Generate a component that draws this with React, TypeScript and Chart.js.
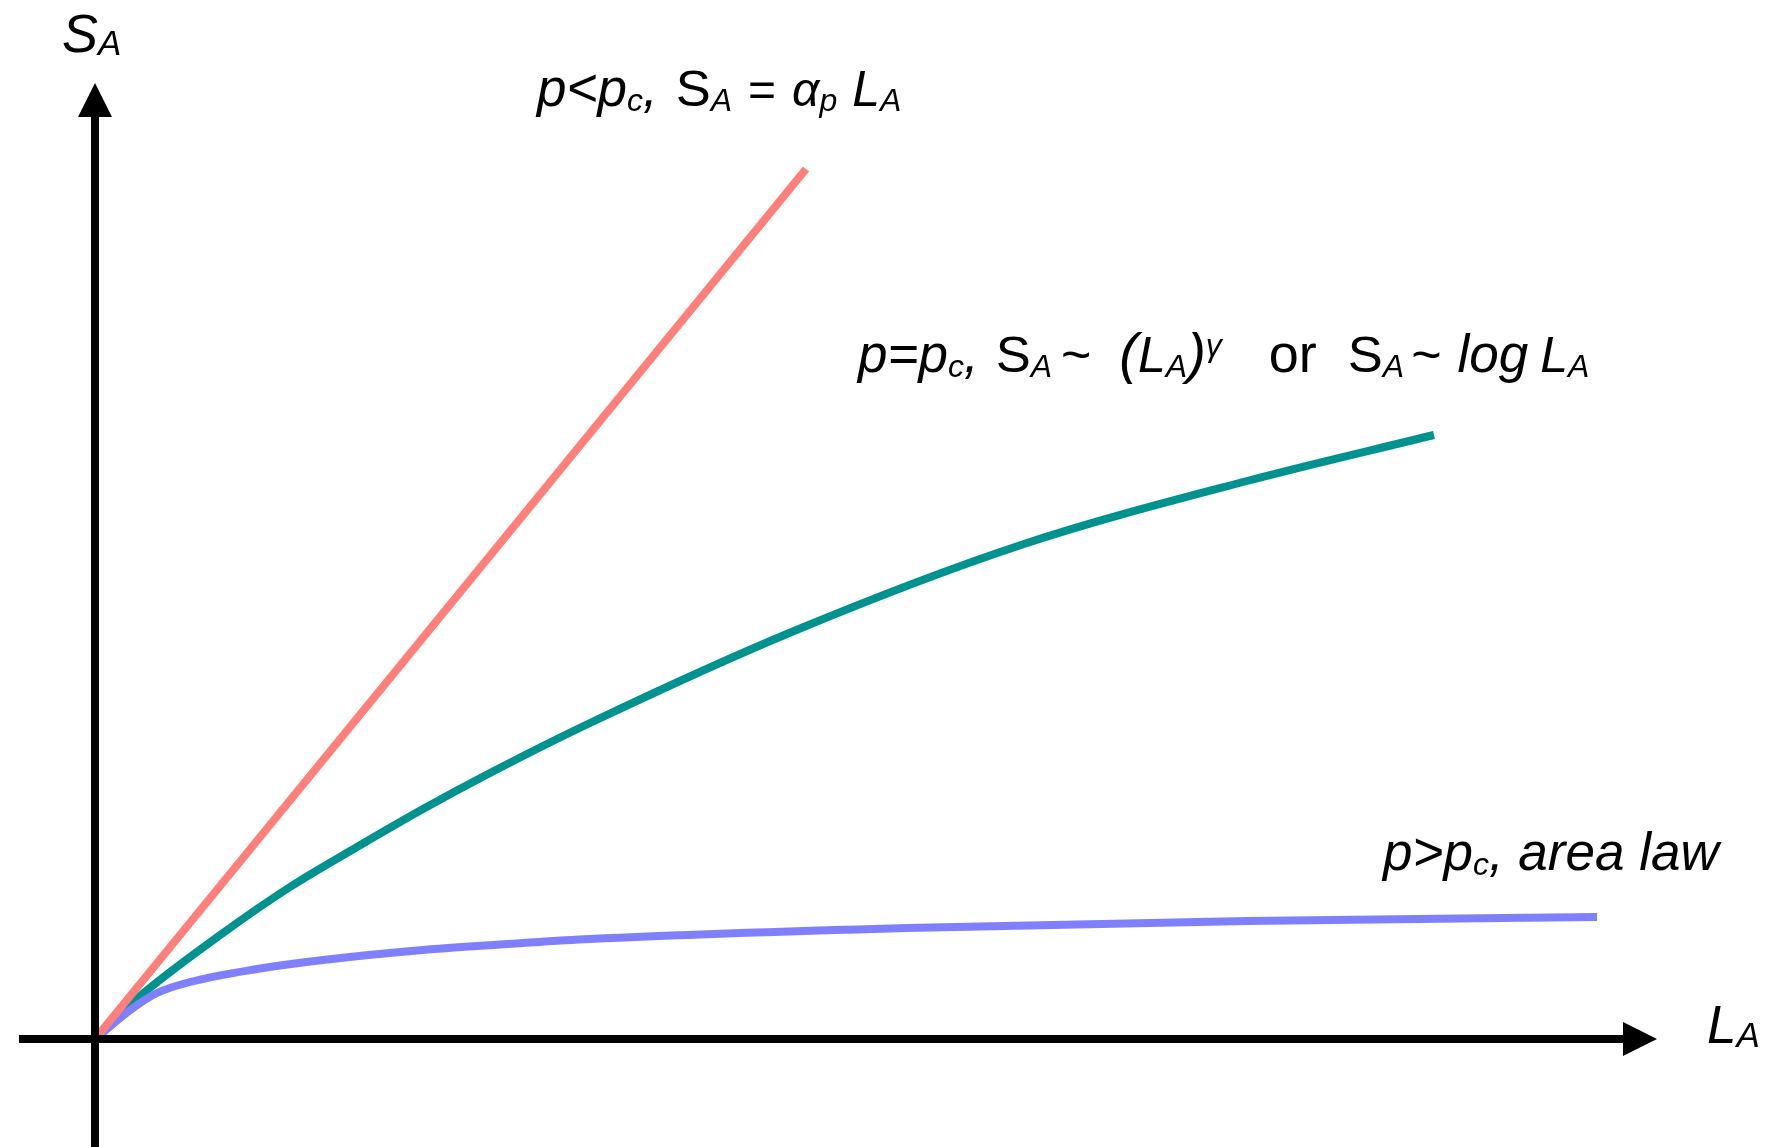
import React, { useEffect, useRef } from 'react';
import { Chart, registerables } from 'chart.js';

Chart.register(...registerables);

// ---- Data (arbitrary units: L_A horizontal, S_A vertical) ----
const L_VOLUME = [0, 7.11];
const S_VOLUME = [0, 8.7];

const L_CRITICAL = [0, 0.38, 1.28, 1.95, 2.62, 3.28, 3.95, 4.95, 6.99, 9.26, 11.52, 13.39];
const S_CRITICAL = [0, 0.37, 1.06, 1.52, 1.92, 2.3, 2.66, 3.16, 4.08, 4.94, 5.58, 6.04];

const L_AREA = [0, 0.38, 0.62, 0.95, 1.62, 2.28, 3.28, 4.28, 4.95, 8.12, 11.52, 15.02];
const S_AREA = [0, 0.31, 0.46, 0.57, 0.7, 0.79, 0.89, 0.96, 1.0, 1.11, 1.18, 1.22];

// axis extents (in data units)
const X_AXIS_FROM = -0.76;
const X_AXIS_TIP = 15.62;
const Y_AXIS_FROM = -1.2;
const Y_AXIS_TIP = 9.56;
const ARROW_LEN = 0.34;
const ARROW_HALF = 0.17;

const X_MIN = 0;
const X_MAX = 16;
const Y_MIN = 0;
const Y_MAX = 10;

const COLOR_VOLUME = 'rgb(255,128,122)';
const COLOR_CRITICAL = 'rgb(0,146,143)';
const COLOR_AREA = 'rgb(128,128,255)';

type Seg = { t?: string; gap?: number; size?: number; it?: boolean; sx?: number; dy?: number };

// annotation texts: anchor in data units + rich segments
const LABEL_VOLUME_POS = [4.42, 9.33];
const LABEL_VOLUME: Seg[] = [
  { t: 'p<p', size: 53 },
  { t: 'c', size: 32, dy: 5 },
  { t: ',', size: 53 },
  { gap: 18 },
  { t: 'S', size: 50, it: false, sx: 1.05 },
  { t: 'A', size: 32, dy: 5 },
  { gap: 16 },
  { t: '=', size: 48, it: false },
  { gap: 16 },
  { t: 'α', size: 48 },
  { t: 'p', size: 32, dy: 5 },
  { gap: 15 },
  { t: 'L', size: 50 },
  { t: 'A', size: 32, dy: 5 },
];

const LABEL_CRITICAL_POS = [7.63, 6.67];
const LABEL_CRITICAL: Seg[] = [
  { t: 'p=p', size: 53 },
  { t: 'c', size: 32, dy: 5 },
  { t: ',', size: 53 },
  { gap: 17 },
  { t: 'S', size: 50, it: false, sx: 1.05 },
  { t: 'A', size: 32, dy: 5 },
  { gap: 9 },
  { t: '~', size: 52, it: false },
  { gap: 28 },
  { t: '(', size: 56 },
  { t: 'L', size: 50 },
  { t: 'A', size: 32, dy: 5 },
  { t: ')', size: 56 },
  { t: 'γ', size: 32, dy: -16 },
  { gap: 47 },
  { t: 'or', size: 54, it: false },
  { gap: 31 },
  { t: 'S', size: 50, it: false, sx: 1.05 },
  { t: 'A', size: 32, dy: 5 },
  { gap: 7 },
  { t: '~', size: 52, it: false },
  { gap: 16 },
  { t: 'log', size: 53 },
  { gap: 12 },
  { t: 'L', size: 50 },
  { t: 'A', size: 32, dy: 5 },
];

const LABEL_AREA_POS = [12.88, 1.69];
const LABEL_AREA: Seg[] = [
  { t: 'p>p', size: 53 },
  { t: 'c', size: 32, dy: 5 },
  { t: ', area law', size: 53 },
];

const LABEL_Y_POS = [-0.33, 9.87];
const LABEL_Y: Seg[] = [
  { t: 'S', size: 54 },
  { t: 'A', size: 35, dy: 3 },
];

const LABEL_X_POS = [16.12, -0.04];
const LABEL_X: Seg[] = [
  { t: 'L', size: 53 },
  { t: 'A', size: 35, dy: 4 },
];

const FONT_FAMILY = '"Liberation Sans", Arial, Helvetica, sans-serif';

function drawRich(ctx: CanvasRenderingContext2D, x: number, y: number, segs: Seg[]) {
  let cx = x;
  for (const s of segs) {
    if (s.gap) {
      cx += s.gap;
      continue;
    }
    const text = s.t || '';
    ctx.save();
    ctx.font = `${s.it === false ? '' : 'italic '}${s.size}px ${FONT_FAMILY}`;
    ctx.fillStyle = '#000';
    ctx.textAlign = 'left';
    ctx.textBaseline = 'alphabetic';
    const sx = s.sx ?? 1;
    const w = ctx.measureText(text).width * sx;
    ctx.translate(cx, y + (s.dy ?? 0));
    ctx.scale(sx, 1);
    ctx.fillText(text, 0, 0);
    ctx.restore();
    cx += w;
  }
}

const axesPlugin = {
  id: 'arrowAxes',
  afterDatasetsDraw(chart: any) {
    const ctx: CanvasRenderingContext2D = chart.ctx;
    const xs = chart.scales.x;
    const ys = chart.scales.y;
    const px = (v: number) => xs.getPixelForValue(v);
    const py = (v: number) => ys.getPixelForValue(v);
    const x0 = px(0);
    const y0 = py(0);
    ctx.save();
    ctx.strokeStyle = '#000';
    ctx.fillStyle = '#000';
    ctx.lineWidth = 8;
    ctx.lineCap = 'butt';
    ctx.beginPath();
    ctx.moveTo(px(X_AXIS_FROM), y0);
    ctx.lineTo(px(X_AXIS_TIP - ARROW_LEN) + 1, y0);
    ctx.stroke();
    ctx.beginPath();
    ctx.moveTo(x0, py(Y_AXIS_FROM));
    ctx.lineTo(x0, py(Y_AXIS_TIP - ARROW_LEN) - 1);
    ctx.stroke();
    const hx = (xs.getPixelForValue(1) - xs.getPixelForValue(0)) * ARROW_HALF;
    const hy = (ys.getPixelForValue(0) - ys.getPixelForValue(1)) * ARROW_HALF;
    ctx.beginPath();
    ctx.moveTo(px(X_AXIS_TIP), y0);
    ctx.lineTo(px(X_AXIS_TIP - ARROW_LEN), y0 - hy);
    ctx.lineTo(px(X_AXIS_TIP - ARROW_LEN), y0 + hy);
    ctx.closePath();
    ctx.fill();
    ctx.beginPath();
    ctx.moveTo(x0, py(Y_AXIS_TIP));
    ctx.lineTo(x0 - hx, py(Y_AXIS_TIP - ARROW_LEN));
    ctx.lineTo(x0 + hx, py(Y_AXIS_TIP - ARROW_LEN));
    ctx.closePath();
    ctx.fill();
    ctx.restore();
  },
  afterDraw(chart: any) {
    const ctx: CanvasRenderingContext2D = chart.ctx;
    const xs = chart.scales.x;
    const ys = chart.scales.y;
    const put = (pos: number[], segs: Seg[]) =>
      drawRich(ctx, xs.getPixelForValue(pos[0]), ys.getPixelForValue(pos[1]), segs);
    put(LABEL_VOLUME_POS, LABEL_VOLUME);
    put(LABEL_CRITICAL_POS, LABEL_CRITICAL);
    put(LABEL_AREA_POS, LABEL_AREA);
    put(LABEL_Y_POS, LABEL_Y);
    put(LABEL_X_POS, LABEL_X);
  },
};

const toPoints = (xs: number[], ys: number[]) => xs.map((x, i) => ({ x, y: ys[i] }));

export default function App() {
  const ref = useRef<HTMLCanvasElement | null>(null);

  useEffect(() => {
    if (!ref.current) return;
    const chart = new Chart(ref.current, {
      type: 'scatter',
      data: {
        datasets: [
          {
            label: 'p<pc',
            data: toPoints(L_VOLUME, S_VOLUME),
            showLine: true,
            borderColor: COLOR_VOLUME,
            borderWidth: 8,
            pointRadius: 0,
            borderCapStyle: 'butt',
            clip: false,
          } as any,
          {
            label: 'p>pc',
            data: toPoints(L_AREA, S_AREA),
            showLine: true,
            borderColor: COLOR_AREA,
            borderWidth: 8,
            pointRadius: 0,
            cubicInterpolationMode: 'monotone',
            borderCapStyle: 'butt',
            clip: false,
          } as any,
          {
            label: 'p=pc',
            data: toPoints(L_CRITICAL, S_CRITICAL),
            showLine: true,
            borderColor: COLOR_CRITICAL,
            borderWidth: 8,
            pointRadius: 0,
            cubicInterpolationMode: 'monotone',
            borderCapStyle: 'butt',
            clip: false,
          } as any,
        ],
      },
      options: {
        animation: false,
        responsive: false,
        devicePixelRatio: 1,
        layout: { padding: { left: 95, right: 83, top: 39, bottom: 108 } },
        plugins: { legend: { display: false }, tooltip: { enabled: false } },
        events: [],
        scales: {
          x: { type: 'linear', min: X_MIN, max: X_MAX, display: false },
          y: { type: 'linear', min: Y_MIN, max: Y_MAX, display: false },
        },
      },
      plugins: [axesPlugin],
    });
    return () => chart.destroy();
  }, []);

  return (
    <div style={{ position: 'absolute', left: 0, top: 0, width: 1778, height: 1147, background: '#fff' }}>
      <canvas ref={ref} width={1778} height={1147} style={{ display: 'block' }} />
    </div>
  );
}
